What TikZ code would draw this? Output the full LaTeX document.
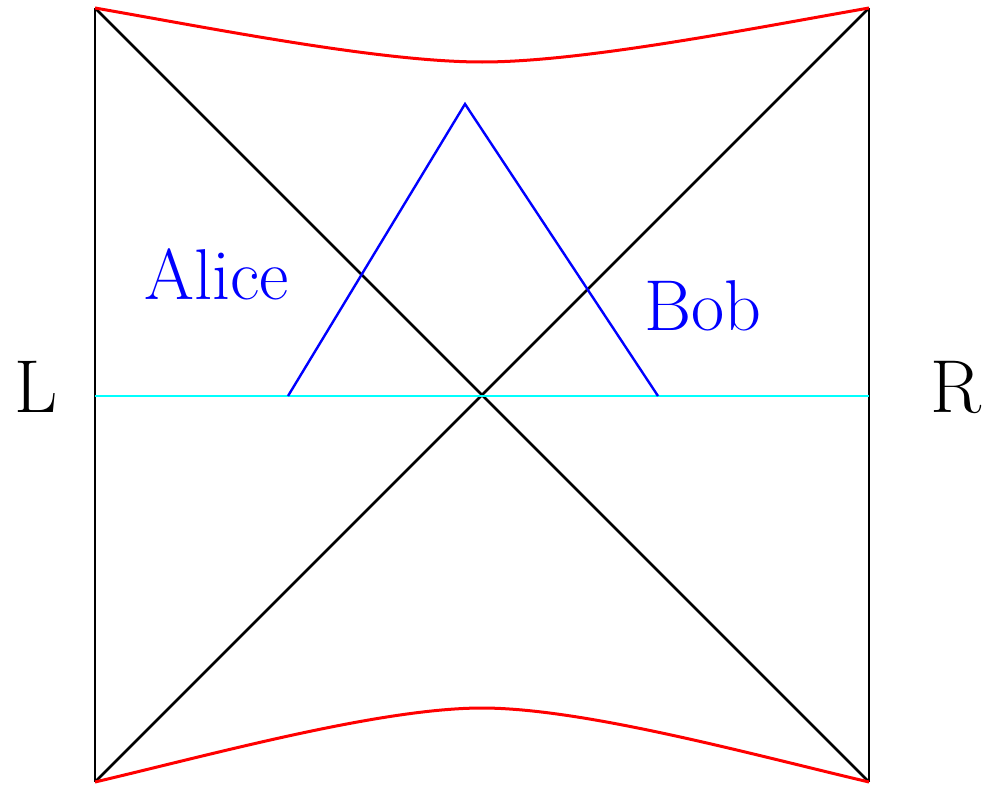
\documentclass[tikz,border=0pt]{standalone}
\usetikzlibrary{positioning}
\definecolor{slicecyan}{RGB}{0,255,255}
\tikzset{
    border/.style={draw=black, line width=1.4pt},
    horizon/.style={draw=black, line width=1.4pt},
    singularity/.style={draw=red, line width=1.5pt},
    slice/.style={draw=slicecyan, line width=1.3pt},
    signal/.style={draw=blue, line width=1.2pt},
    player/.style={text=blue, inner sep=0pt, anchor=base west, font=\rmfamily\fontsize{36}{43}\selectfont},
    side/.style={text=black, inner sep=0pt, anchor=base west, font=\rmfamily\fontsize{37.5}{45}\selectfont}
}

\begin{document}
\begin{tikzpicture}[x=0.5pt, y=-0.5pt]
        \useasboundingbox (0,0) rectangle (983,787);

        \coordinate (tl) at (95,8);
        \coordinate (tr) at (869,8);
        \coordinate (bl) at (95,782);
        \coordinate (br) at (869,782);
        \coordinate (mid) at (482,395);
        \coordinate (sliceL) at (95,396);
        \coordinate (sliceR) at (869,396);
        \coordinate (aliceStart) at (288,396);
        \coordinate (meet) at (465,104);
        \coordinate (bobStart) at (658,396);

        \node (alice) [player] at (144,299) {Alice};
        \node (bob) [player] at (644,330) {Bob};
        \node (left) [side] at (14,412) {L};
        \node (right) [side] at (930,412) {R};

        \draw [border] (tl) -- (bl);
        \draw [border] (tr) -- (br);
        \draw [horizon] (tl) -- (br);
        \draw [horizon] (bl) -- (tr);

        \draw [singularity] (tl) .. controls (210,28) and (380,62) .. (482,62)
            .. controls (584,62) and (754,28) .. (tr);
        \draw [singularity] (bl) .. controls (210,755) and (380,708) .. (482,708)
            .. controls (584,708) and (754,755) .. (br);

        \draw [slice] (sliceL) -- (sliceR);
        \draw [signal] (aliceStart) -- (meet) -- (bobStart);
    \end{tikzpicture}
\end{document}
